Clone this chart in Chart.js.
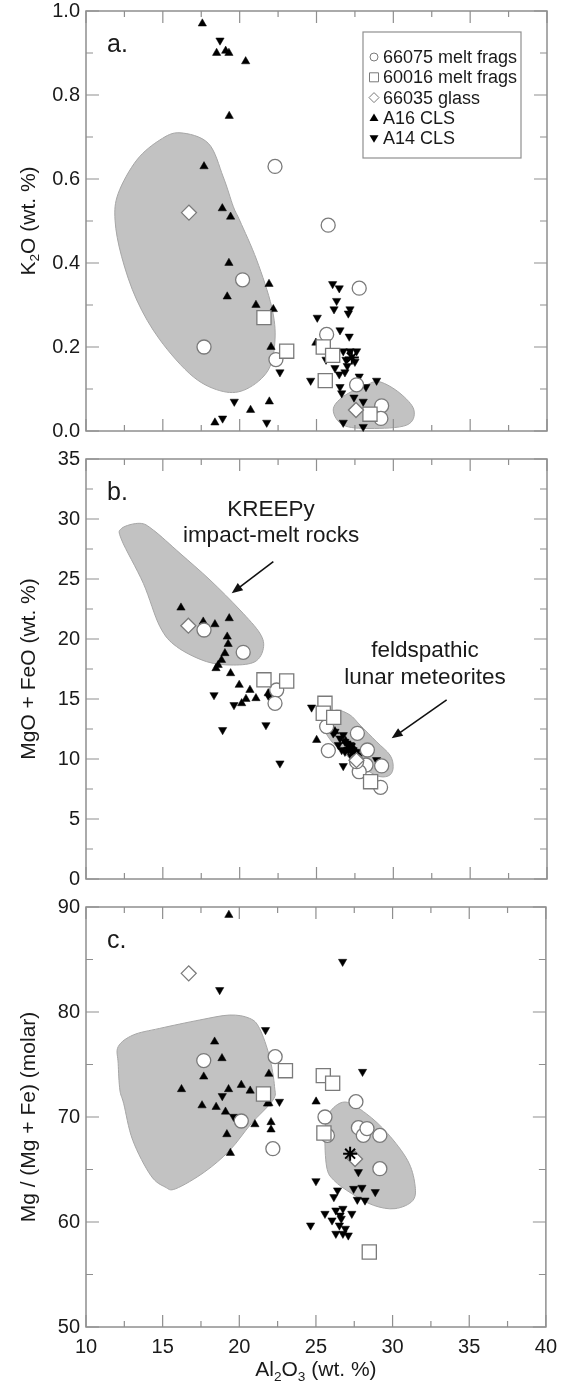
<!DOCTYPE html>
<html>
<head>
<meta charset="utf-8">
<script src="https://cdn.jsdelivr.net/npm/chart.js@4.4.0/dist/chart.umd.min.js"></script>
<style>
  html, body { margin: 0; padding: 0; background: #fff; }
  #wrap { position: relative; width: 565px; height: 1382px; }
  .panel { position: absolute; left: 0; width: 565px; }
</style>
</head>
<body>
<div id="wrap">
  <div class="panel" style="top:0;height:445px"><canvas id="panelA"></canvas></div>
  <div class="panel" style="top:445px;height:448px"><canvas id="panelB"></canvas></div>
  <div class="panel" style="top:893px;height:489px"><canvas id="panelC"></canvas></div>
</div>
<script>
const FONT = '"Liberation Sans", Arial, Helvetica, sans-serif';

// ---- panel a: K2O vs Al2O3 ----
const k2o66075 = [[22.3,0.63],[25.76,0.49],[20.19,0.36],[17.68,0.20],[22.36,0.17],[27.78,0.34],[25.66,0.23],[27.61,0.11],[29.24,0.06],[29.19,0.03]];
const k2o60016 = [[21.58,0.27],[23.06,0.19],[25.44,0.20],[26.05,0.18],[25.57,0.12],[28.48,0.04]];
const k2o66035 = [[16.70,0.52],[27.57,0.05]];
const k2oA16 = [[17.57,0.97],[18.5,0.90],[19.09,0.905],[19.3,0.90],[20.39,0.88],[19.32,0.75],[17.68,0.63],[18.87,0.53],[19.41,0.51],[19.30,0.40],[19.19,0.32],[21.91,0.35],[21.06,0.30],[22.19,0.29],[22.04,0.20],[20.71,0.05],[21.93,0.07],[18.39,0.02],[24.96,0.21]];
const k2oA14 = [[18.72,0.93],[22.62,0.14],[19.65,0.07],[18.89,0.03],[21.76,0.02],[26.05,0.35],[26.48,0.34],[26.31,0.31],[26.14,0.29],[27.18,0.29],[27.07,0.28],[25.05,0.27],[26.53,0.24],[27.13,0.225],[25.62,0.17],[26.74,0.19],[27.18,0.19],[27.61,0.19],[26.92,0.17],[27.5,0.165],[26.2,0.15],[27.0,0.155],[26.48,0.135],[26.85,0.14],[27.78,0.13],[24.62,0.12],[26.53,0.105],[28.91,0.12],[28.22,0.105],[26.64,0.09],[27.44,0.08],[28.04,0.07],[26.74,0.02],[28.04,0.01]];
const k2oMean = [[27.3,0.175]];
const k2oKreepyField = [[16.12,0.71],[17.96,0.685],[18.93,0.605],[19.59,0.534],[20.02,0.50],[21.11,0.407],[22.08,0.296],[22.3,0.217],[21.86,0.145],[20.45,0.10],[18.93,0.094],[16.98,0.129],[14.81,0.217],[13.3,0.312],[12.32,0.415],[11.89,0.502],[12.1,0.566],[13.3,0.645],[14.81,0.693]];
const k2oFeldField = [[26.09,0.05],[26.74,0.082],[28.26,0.11],[29.13,0.117],[30.43,0.09],[31.34,0.05],[30.87,0.014],[28.48,0.006],[26.74,0.014]];

// ---- panel b: MgO + FeO vs Al2O3 ----
const mgfe66075 = [[17.68,20.75],[20.23,18.89],[22.41,15.75],[22.3,14.64],[25.66,12.7],[25.77,10.7],[27.66,12.14],[28.31,10.75],[29.24,9.42],[28.22,9.5],[27.78,8.94],[29.17,7.64],[27.61,9.78]];
const mgfe60016 = [[21.58,16.6],[23.06,16.5],[25.55,14.64],[25.44,13.81],[26.12,13.47],[28.52,8.11]];
const mgfe66035 = [[16.66,21.11],[27.6,9.9]];
const mgfeA16 = [[16.18,22.61],[17.63,21.44],[18.39,21.22],[19.32,21.72],[19.19,20.19],[19.25,19.58],[19.04,18.81],[18.82,18.25],[18.6,17.83],[18.46,17.56],[19.41,17.14],[19.97,16.17],[20.67,15.75],[21.06,15.06],[20.41,15.0],[20.13,14.64],[21.86,15.47],[25.01,11.58],[26.2,12.3],[26.9,11.5],[27.4,10.9]];
const mgfeA14 = [[18.33,15.33],[19.63,14.5],[18.89,12.42],[21.71,12.83],[22.62,9.64],[21.9,15.2],[24.68,14.3],[26.74,9.42],[26.09,12.14],[26.53,11.72],[26.96,11.31],[26.42,11.17],[27.18,10.89],[27.39,10.47],[27.61,10.19],[26.74,12.0],[26.64,10.75],[26.2,12.28],[26.85,11.44],[27.18,11.17],[27.07,10.75],[27.61,10.61],[27.83,10.33],[26.85,10.61],[27.28,10.19],[28.91,9.92]];
const mgfeMean = [[27.2,10.9]];
const mgfeKreepyField = [[12.32,29.22],[13.51,29.64],[14.38,29.08],[16.12,27.14],[18.07,24.92],[20.02,22.42],[21.32,20.47],[21.54,19.22],[21.0,18.11],[19.59,17.83],[17.85,18.11],[15.9,19.36],[14.81,21.03],[13.73,24.64],[12.32,28.25]];
const mgfeFeldField = [[25.66,13.53],[26.31,14.08],[27.18,13.67],[27.83,12.83],[28.91,11.44],[29.78,10.33],[29.99,9.36],[29.78,8.67],[29.13,8.53],[28.26,9.08],[27.18,10.06],[26.09,11.31],[25.55,12.42]];

// ---- panel c: Mg# vs Al2O3 ----
const mg66075 = [[17.68,75.37],[22.34,75.75],[20.13,69.62],[22.19,66.98],[25.59,70.0],[25.75,68.25],[27.61,71.46],[27.77,68.98],[28.09,68.25],[28.33,68.9],[29.17,68.25],[29.17,65.08]];
const mg60016 = [[23.01,74.41],[25.48,73.94],[26.09,73.21],[21.58,72.19],[25.52,68.48],[28.48,57.14]];
const mg66035 = [[16.70,83.68],[27.55,66.0]];
const mgA16 = [[19.32,89.24],[18.39,77.17],[18.87,75.59],[17.68,73.84],[21.93,74.1],[16.23,72.64],[19.30,72.64],[20.13,73.05],[20.71,72.5],[21.93,71.3],[17.57,71.1],[18.49,70.95],[19.1,70.5],[25.01,71.46],[19.19,68.35],[19.42,66.57],[21.02,69.3],[22.07,69.5],[22.07,68.8],[21.84,71.27]];
const mgA14 = [[18.72,82.1],[26.74,84.79],[21.71,78.29],[18.89,72.0],[22.62,71.46],[28.04,74.31],[19.63,70.03],[25.0,63.9],[27.77,64.76],[28.87,62.86],[26.41,63.02],[26.17,62.38],[27.46,63.17],[28.0,63.27],[27.7,62.13],[28.2,62.06],[24.65,59.68],[25.59,60.79],[26.3,61.11],[26.76,61.27],[27.34,60.79],[26.05,60.16],[26.65,60.32],[26.53,59.68],[26.3,58.89],[26.76,58.89],[27.11,58.73],[26.92,59.37],[26.58,60.63]];
const mgMean = [[27.23,66.51]];
const mgKreepyField = [[12.10,76.7],[13.08,77.81],[14.81,78.44],[17.42,79.24],[19.37,79.71],[20.67,79.4],[21.32,78.44],[21.97,75.75],[22.3,72.89],[22.19,71.6],[20.78,69.37],[19.38,66.83],[17.73,64.76],[15.86,63.17],[15.16,63.33],[14.22,64.44],[13.05,67.78],[12.46,71.27],[12.21,72.57],[12.10,75.1]];
const mgFeldField = [[26.88,71.43],[28.28,70.32],[29.69,68.41],[30.98,65.87],[31.45,63.65],[31.33,62.06],[30.16,61.27],[28.75,61.59],[27.34,62.7],[26.17,63.97],[25.7,65.24],[25.59,68.4],[25.82,70.3]];

// axis titles (parts so subscripts can be drawn)
const k2oTitle = [{t:'K'},{t:'2',sub:true},{t:'O (wt. %)'}];
const mgfeTitle = [{t:'MgO + FeO (wt. %)'}];
const mgnoTitle = [{t:'Mg / (Mg + Fe) (molar)'}];
const alTitle = [{t:'Al'},{t:'2',sub:true},{t:'O'},{t:'3',sub:true},{t:' (wt. %)'}];

const legendLabels = ['66075 melt frags', '60016 melt frags', '66035 glass', 'A16 CLS', 'A14 CLS'];

// annotations for panel b (data coords)
const kreepyText = [['KREEPy', 22.04, 30.25], ['impact-melt rocks', 22.04, 28.1]];
const feldText = [['feldspathic', 32.06, 18.53], ['lunar meteorites', 32.06, 16.25]];
const arrowsB = [[[22.19,26.44],[19.48,23.81]], [[33.47,14.92],[29.89,11.72]]];

function pts(arr) { return arr.map(p => ({x: p[0], y: p[1]})); }

function markerSets(circ, sq, dia, up, down, mean) {
  const open = {pointBackgroundColor: '#fff', pointBorderColor: '#7a7a7a', pointBorderWidth: 1.3};
  return [
    {label: 'mean', data: pts(mean), pointStyle: 'star', pointRadius: 7, pointBorderColor: '#000', pointBorderWidth: 2, order: 0},
    Object.assign({label: '66035 glass', data: pts(dia), pointStyle: 'rectRot', pointRadius: 7.5, order: 1}, open),
    Object.assign({label: '60016 melt frags', data: pts(sq), pointStyle: 'rect', pointRadius: 10, order: 2}, open),
    Object.assign({label: '66075 melt frags', data: pts(circ), pointStyle: 'circle', pointRadius: 7, order: 3}, open),
    {label: 'A14 CLS', data: pts(down), pointStyle: 'triangle', pointRotation: 180, pointRadius: 4.8, pointBackgroundColor: '#000', pointBorderColor: '#000', pointBorderWidth: 0.5, order: 4},
    {label: 'A16 CLS', data: pts(up), pointStyle: 'triangle', pointRadius: 4.8, pointBackgroundColor: '#000', pointBorderColor: '#000', pointBorderWidth: 0.5, order: 5}
  ].map(d => Object.assign(d, {clip: false, pointHoverRadius: d.pointRadius}));
}

function richWidth(ctx, parts, size) {
  let w = 0;
  for (const p of parts) {
    ctx.font = (p.sub ? size * 0.65 : size) + 'px ' + FONT;
    w += ctx.measureText(p.t).width;
  }
  return w;
}
function drawRich(ctx, parts, x, y, size) {
  let cx = x;
  ctx.textAlign = 'left';
  ctx.textBaseline = 'alphabetic';
  for (const p of parts) {
    const s = p.sub ? size * 0.65 : size;
    ctx.font = s + 'px ' + FONT;
    ctx.fillText(p.t, cx, p.sub ? y + size * 0.22 : y);
    cx += ctx.measureText(p.t).width;
  }
}

// closed smooth outline through the field points
function blob(ctx, p) {
  const n = p.length;
  ctx.beginPath();
  ctx.moveTo(p[0][0], p[0][1]);
  for (let i = 0; i < n; i++) {
    const p0 = p[(i - 1 + n) % n], p1 = p[i], p2 = p[(i + 1) % n], p3 = p[(i + 2) % n];
    ctx.bezierCurveTo(p1[0] + (p2[0] - p0[0]) / 6, p1[1] + (p2[1] - p0[1]) / 6,
                      p2[0] - (p3[0] - p1[0]) / 6, p2[1] - (p3[1] - p1[1]) / 6,
                      p2[0], p2[1]);
  }
  ctx.closePath();
}

function legendSymbol(ctx, kind, x, y) {
  ctx.beginPath();
  if (kind === 0) ctx.arc(x, y, 4, 0, Math.PI * 2);
  else if (kind === 1) ctx.rect(x - 4.5, y - 4.5, 9, 9);
  else if (kind === 2) { ctx.moveTo(x, y - 5); ctx.lineTo(x + 5, y); ctx.lineTo(x, y + 5); ctx.lineTo(x - 5, y); ctx.closePath(); }
  else if (kind === 3) { ctx.moveTo(x, y - 4.5); ctx.lineTo(x + 4.5, y + 3); ctx.lineTo(x - 4.5, y + 3); ctx.closePath(); }
  else { ctx.moveTo(x, y + 4.5); ctx.lineTo(x + 4.5, y - 3); ctx.lineTo(x - 4.5, y - 3); ctx.closePath(); }
  if (kind < 3) { ctx.fillStyle = '#fff'; ctx.fill(); ctx.strokeStyle = '#7a7a7a'; ctx.lineWidth = 1; ctx.stroke(); }
  else { ctx.fillStyle = '#000'; ctx.fill(); }
}

const panelDecor = {
  id: 'panelDecor',
  beforeDatasetsDraw(chart, args, opts) {
    const ctx = chart.ctx, xs = chart.scales.x, ys = chart.scales.y, a = chart.chartArea;
    ctx.save();
    for (const f of opts.fields) {
      const p = f.map(v => [xs.getPixelForValue(v[0]), ys.getPixelForValue(v[1])]);
      blob(ctx, p);
      ctx.fillStyle = '#c2c2c2';
      ctx.fill();
      ctx.strokeStyle = '#a6a6a6';
      ctx.lineWidth = 1;
      ctx.stroke();
    }
    ctx.strokeStyle = '#8f8f8f';
    ctx.lineWidth = 1.5;
    ctx.strokeRect(a.left, a.top, a.width, a.height);
    ctx.beginPath();
    const marks = (step, len) => {
      for (let v = xs.min; v <= xs.max + 1e-9; v += step) {
        const px = xs.getPixelForValue(v);
        ctx.moveTo(px, a.bottom); ctx.lineTo(px, a.bottom - len);
        ctx.moveTo(px, a.top); ctx.lineTo(px, a.top + len);
      }
    };
    marks(2.5, 6); marks(5, 12);
    const ymarks = (step, len) => {
      for (let v = ys.min; v <= ys.max + 1e-9; v += step) {
        const py = ys.getPixelForValue(v);
        ctx.moveTo(a.left, py); ctx.lineTo(a.left + len, py);
        ctx.moveTo(a.right, py); ctx.lineTo(a.right - len, py);
      }
    };
    ymarks(opts.yMinor, 7); ymarks(opts.yMajor, 13);
    ctx.lineWidth = 1.2;
    ctx.stroke();
    ctx.restore();
  },
  afterDraw(chart, args, opts) {
    const ctx = chart.ctx, xs = chart.scales.x, ys = chart.scales.y, a = chart.chartArea;
    ctx.save();
    ctx.fillStyle = '#1a1a1a';
    // panel letter
    ctx.font = '25px ' + FONT;
    ctx.textAlign = 'left';
    ctx.textBaseline = 'alphabetic';
    ctx.fillText(opts.letter, a.left + 21, a.top + 41);
    // y title
    const ts = 21;
    const w = richWidth(ctx, opts.yTitle, ts);
    ctx.save();
    ctx.translate(27, (a.top + a.bottom) / 2);
    ctx.rotate(-Math.PI / 2);
    drawRich(ctx, opts.yTitle, -w / 2, ts * 0.36, ts);
    ctx.restore();
    // x title
    if (opts.xTitle) {
      const xw = richWidth(ctx, opts.xTitle, ts);
      drawRich(ctx, opts.xTitle, (a.left + a.right) / 2 - xw / 2, chart.height - 6, ts);
    }
    // text annotations + arrows
    if (opts.notes) {
      ctx.font = '22.5px ' + FONT;
      ctx.textAlign = 'center';
      for (const n of opts.notes) ctx.fillText(n[0], xs.getPixelForValue(n[1]), ys.getPixelForValue(n[2]));
      ctx.strokeStyle = '#111';
      ctx.fillStyle = '#111';
      ctx.lineWidth = 1.6;
      for (const ar of opts.arrows) {
        const x0 = xs.getPixelForValue(ar[0][0]), y0 = ys.getPixelForValue(ar[0][1]);
        const x1 = xs.getPixelForValue(ar[1][0]), y1 = ys.getPixelForValue(ar[1][1]);
        const ang = Math.atan2(y1 - y0, x1 - x0);
        ctx.beginPath();
        ctx.moveTo(x0, y0);
        ctx.lineTo(x1 - 8 * Math.cos(ang), y1 - 8 * Math.sin(ang));
        ctx.stroke();
        ctx.beginPath();
        ctx.moveTo(x1, y1);
        ctx.lineTo(x1 - 11 * Math.cos(ang) + 4.5 * Math.sin(ang), y1 - 11 * Math.sin(ang) - 4.5 * Math.cos(ang));
        ctx.lineTo(x1 - 11 * Math.cos(ang) - 4.5 * Math.sin(ang), y1 - 11 * Math.sin(ang) + 4.5 * Math.cos(ang));
        ctx.closePath();
        ctx.fill();
      }
    }
    // legend box
    if (opts.legend) {
      const bx = a.left + 277, by = a.top + 21;
      ctx.strokeStyle = '#8f8f8f';
      ctx.lineWidth = 1.2;
      ctx.fillStyle = '#fff';
      ctx.fillRect(bx, by, 158, 126);
      ctx.strokeRect(bx, by, 158, 126);
      opts.legend.forEach((lab, i) => {
        const base = by + 31 + i * 20.3;
        legendSymbol(ctx, i, bx + 11, base - 6);
        ctx.fillStyle = '#1a1a1a';
        ctx.font = '18px ' + FONT;
        ctx.textAlign = 'left';
        ctx.fillText(lab, bx + 20, base);
      });
    }
    ctx.restore();
  }
};

function makePanel(id, sets, y, decor, showX) {
  return new Chart(document.getElementById(id), {
    type: 'scatter',
    data: {datasets: sets},
    plugins: [panelDecor],
    options: {
      responsive: true,
      maintainAspectRatio: false,
      animation: false,
      layout: {autoPadding: false, padding: {left: 0, right: 18, top: showX ? 14 : y.padTop, bottom: showX ? 0 : 14}},
      plugins: {legend: {display: false}, tooltip: {enabled: false}, panelDecor: decor},
      scales: {
        x: {
          type: 'linear', min: 10, max: 40, display: showX,
          grid: {display: false, drawTicks: false, tickLength: 0},
          border: {display: false},
          ticks: {stepSize: 5, padding: 8, color: '#1a1a1a', font: {family: FONT, size: 20}, maxRotation: 0, autoSkip: false},
          afterFit: s => { s.height = showX ? 55 : 0; }
        },
        y: {
          type: 'linear', min: y.min, max: y.max,
          grid: {display: false, drawTicks: false, tickLength: 0},
          border: {display: false},
          ticks: {stepSize: y.step, padding: 6, color: '#1a1a1a', font: {family: FONT, size: 20, lineHeight: 0.2}, autoSkip: false,
                  callback: v => y.fmt ? v.toFixed(1) : v},
          afterFit: s => { s.width = 86; }
        }
      }
    }
  });
}

makePanel('panelA', markerSets(k2o66075, k2o60016, k2o66035, k2oA16, k2oA14, k2oMean),
  {min: 0, max: 1, step: 0.2, fmt: true, padTop: 11},
  {fields: [k2oKreepyField, k2oFeldField], yMajor: 0.2, yMinor: 0.1, letter: 'a.', yTitle: k2oTitle, legend: legendLabels}, false);

makePanel('panelB', markerSets(mgfe66075, mgfe60016, mgfe66035, mgfeA16, mgfeA14, mgfeMean),
  {min: 0, max: 35, step: 5, padTop: 14},
  {fields: [mgfeKreepyField, mgfeFeldField], yMajor: 5, yMinor: 2.5, letter: 'b.', yTitle: mgfeTitle,
   notes: kreepyText.concat(feldText), arrows: arrowsB}, false);

makePanel('panelC', markerSets(mg66075, mg60016, mg66035, mgA16, mgA14, mgMean),
  {min: 50, max: 90, step: 10, padTop: 14},
  {fields: [mgKreepyField, mgFeldField], yMajor: 10, yMinor: 5, letter: 'c.', yTitle: mgnoTitle, xTitle: alTitle}, true);
</script>
</body>
</html>
